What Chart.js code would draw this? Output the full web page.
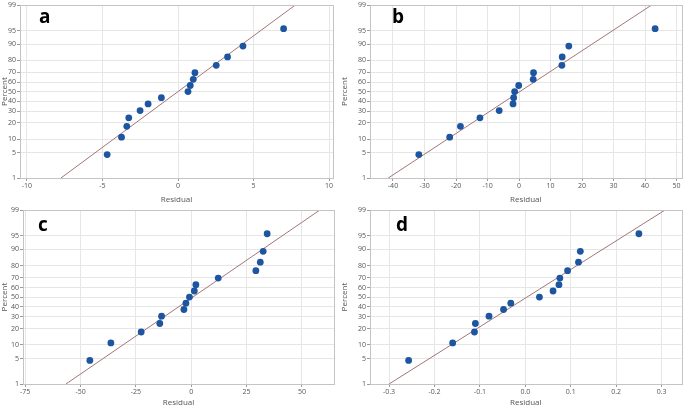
<!DOCTYPE html>
<html>
<head>
    <title>Normal probability plots of residuals</title>
    <script src="https://cdn.jsdelivr.net/npm/chart.js"></script>
    <style>
        body {
            margin: 0;
            background: white;
            font-family: "Open Sans", Arial, sans-serif;
        }
        .panel {
            position: absolute;
        }
        .tag {
            position: absolute;
            font-weight: bold;
            font-size: 19px;
            color: #000;
            line-height: 1;
        }
    </style>
</head>
<body>
    <div class="panel" style="left:0;top:0;width:340px;height:205px;"><canvas id="chartA"></canvas></div>
    <div class="panel" style="left:340px;top:0;width:345px;height:205px;"><canvas id="chartB"></canvas></div>
    <div class="panel" style="left:0;top:205px;width:340px;height:203px;"><canvas id="chartC"></canvas></div>
    <div class="panel" style="left:340px;top:205px;width:345px;height:203px;"><canvas id="chartD"></canvas></div>
    <div class="tag" style="left:39px;top:7px;">a</div>
    <div class="tag" style="left:392px;top:7px;">b</div>
    <div class="tag" style="left:38px;top:215px;">c</div>
    <div class="tag" style="left:396px;top:215px;">d</div>

    <script>
        // percent (median rank) of each sorted residual, same for all 4 plots
        const percentRank = [4.5, 11.0, 17.5, 24.0, 30.5, 37.0, 43.5, 50.0, 56.5, 63.0, 69.5, 76.0, 82.5, 89.0, 95.5];

        const residA = [-4.69, -3.74, -3.39, -3.26, -2.51, -1.98, -1.10, 0.66, 0.81, 1.01, 1.12, 2.53, 3.28, 4.30, 6.99];
        const residB = [-31.8, -22.0, -18.6, -12.4, -6.3, -1.9, -1.7, -1.4, -0.1, 4.5, 4.6, 13.6, 13.7, 15.8, 43.2];
        const residC = [-45.8, -36.3, -22.6, -14.2, -13.4, -3.3, -2.4, -0.8, 1.4, 2.1, 12.2, 29.2, 31.2, 32.5, 34.3];
        const residD = [-0.257, -0.160, -0.112, -0.110, -0.080, -0.048, -0.032, 0.031, 0.061, 0.074, 0.076, 0.093, 0.117, 0.121, 0.250];

        // fitted normal line: residual at 1% and 99%
        const fitPercent = [1, 99];
        const fitA = [-7.75, 7.75];
        const fitB = [-41.5, 42.0];
        const fitC = [-56.6, 58.0];
        const fitD = [-0.300, 0.307];

        const yTickLabels = [1, 5, 10, 20, 30, 40, 50, 60, 70, 80, 90, 95, 99];
        const xTicksA = [-10, -5, 0, 5, 10];
        const xTicksB = [-40, -30, -20, -10, 0, 10, 20, 30, 40, 50];
        const xTicksC = [-75, -50, -25, 0, 25, 50];
        const xTicksD = [-0.3, -0.2, -0.1, 0.0, 0.1, 0.2, 0.3];
        const xLabelsD = ['-0.3', '-0.2', '-0.1', '0.0', '0.1', '0.2', '0.3'];

        // inverse normal cdf (Acklam), used as the probability scale
        function probit(p) {
            const a = [-39.6968302866538, 220.946098424521, -275.928510446969, 138.357751867269, -30.6647980661472, 2.50662827745924];
            const b = [-54.4760987982241, 161.585836858041, -155.698979859887, 66.8013118877197, -13.2806815528857];
            const c = [-0.00778489400243029, -0.322396458041136, -2.40075827716184, -2.54973253934373, 4.37466414146497, 2.93816398269878];
            const d = [0.00778469570904146, 0.32246712907004, 2.445134137143, 3.75440866190742];
            let q, r;
            if (p < 0.02425) {
                q = Math.sqrt(-2 * Math.log(p));
                return (((((c[0]*q+c[1])*q+c[2])*q+c[3])*q+c[4])*q+c[5]) / ((((d[0]*q+d[1])*q+d[2])*q+d[3])*q+1);
            }
            if (p > 1 - 0.02425) {
                q = Math.sqrt(-2 * Math.log(1 - p));
                return -(((((c[0]*q+c[1])*q+c[2])*q+c[3])*q+c[4])*q+c[5]) / ((((d[0]*q+d[1])*q+d[2])*q+d[3])*q+1);
            }
            q = p - 0.5;
            r = q * q;
            return (((((a[0]*r+a[1])*r+a[2])*r+a[3])*r+a[4])*r+a[5])*q / (((((b[0]*r+b[1])*r+b[2])*r+b[3])*r+b[4])*r+1);
        }

        const frame = {
            id: 'frame',
            afterDraw(chart) {
                const ca = chart.chartArea;
                const ctx = chart.ctx;
                ctx.save();
                ctx.strokeStyle = '#c4c4c4';
                ctx.lineWidth = 1;
                ctx.strokeRect(Math.round(ca.left) + 0.5, Math.round(ca.top) + 0.5,
                    Math.round(ca.right - ca.left), Math.round(ca.bottom - ca.top));
                ctx.restore();
            }
        };

        function makePlot(id, resid, fit, xTicks, xLabels, xMin, xMax, yWidth, xHeight, pad) {
            new Chart(document.getElementById(id), {
                type: 'scatter',
                data: {
                    datasets: [{
                        data: resid.map((v, i) => ({ x: v, y: probit(percentRank[i] / 100) })),
                        backgroundColor: '#1d55a0',
                        borderColor: '#1d55a0',
                        borderWidth: 0,
                        pointRadius: 3.4,
                        pointHoverRadius: 3.4
                    }, {
                        data: fit.map((v, i) => ({ x: v, y: probit(fitPercent[i] / 100) })),
                        showLine: true,
                        borderColor: '#a57575',
                        borderWidth: 1,
                        pointRadius: 0,
                        fill: false
                    }]
                },
                options: {
                    responsive: true,
                    maintainAspectRatio: false,
                    animation: false,
                    layout: { padding: pad },
                    plugins: {
                        legend: { display: false },
                        tooltip: { enabled: false }
                    },
                    scales: {
                        x: {
                            type: 'linear',
                            min: xMin,
                            max: xMax,
                            afterBuildTicks: axis => { axis.ticks = xTicks.map(v => ({ value: v })); },
                            afterFit: axis => { axis.height = xHeight; },
                            border: { display: false },
                            grid: { color: '#e6e6e6', tickColor: '#9a9a9a', tickLength: 3 },
                            ticks: {
                                autoSkip: false,
                                maxRotation: 0,
                                padding: 1,
                                color: '#555',
                                font: { family: 'Open Sans', size: 7 },
                                callback: (v, i) => xLabels ? xLabels[i] : String(xTicks[i])
                            },
                            title: {
                                display: true,
                                text: 'Residual',
                                color: '#555',
                                padding: { top: 1, bottom: 0 },
                                font: { family: 'Open Sans', size: 8 }
                            }
                        },
                        y: {
                            type: 'linear',
                            min: probit(0.01),
                            max: probit(0.99),
                            afterBuildTicks: axis => { axis.ticks = yTickLabels.map(p => ({ value: probit(p / 100) })); },
                            afterFit: axis => { axis.width = yWidth; },
                            border: { display: false },
                            grid: { color: '#e6e6e6', tickColor: '#9a9a9a', tickLength: 3 },
                            ticks: {
                                autoSkip: false,
                                padding: 1,
                                color: '#555',
                                font: { family: 'Open Sans', size: 7 },
                                callback: (v, i) => String(yTickLabels[i])
                            },
                            title: {
                                display: true,
                                text: 'Percent',
                                color: '#555',
                                padding: 0,
                                font: { family: 'Open Sans', size: 8 }
                            }
                        }
                    }
                },
                plugins: [frame]
            });
        }

        makePlot('chartA', residA, fitA, xTicksA, null, -10.46, 10.26, 20, 27, { top: 4, right: 7 });
        makePlot('chartB', residB, fitB, xTicksB, null, -47.3, 51.6, 30, 27, { top: 4, right: 3 });
        makePlot('chartC', residC, fitC, xTicksC, null, -76, 64.5, 23, 24, { top: 5, right: 6 });
        makePlot('chartD', residD, fitD, xTicksD, xLabelsD, -0.342, 0.344, 30, 24, { top: 5, right: 2 });
    </script>
</body>
</html>
